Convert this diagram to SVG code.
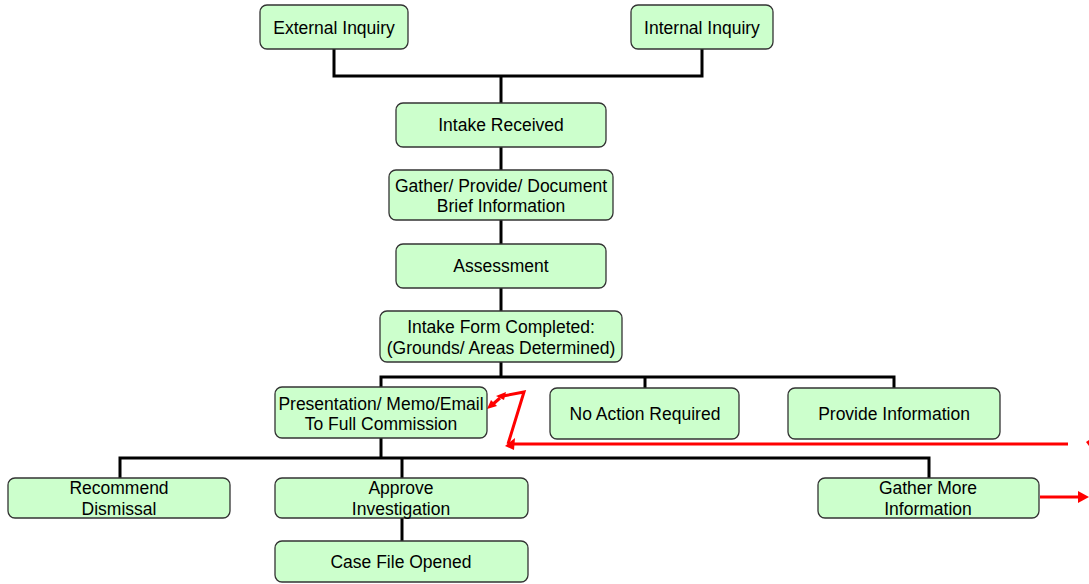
<svg xmlns="http://www.w3.org/2000/svg" width="1089" height="584" viewBox="0 0 1089 584">
<style>
.box{fill:#ccffcc;stroke:#333;stroke-width:1.3}
.t{font-family:"Liberation Sans",Arial,sans-serif;font-size:17.5px;fill:#000;text-anchor:middle}
.c{fill:none;stroke:#000;stroke-width:3}
.r{fill:none;stroke:#ff0000;stroke-width:3}
.rh{fill:#ff0000;stroke:none}
</style>
<rect width="1089" height="584" fill="#fff"/>
<g id="connectors">
<polyline class="c" points="334,49 334,76 702,76 702,49"/>
<line class="c" x1="501" y1="76" x2="501" y2="103"/>
<line class="c" x1="501" y1="147" x2="501" y2="170"/>
<line class="c" x1="501" y1="220" x2="501" y2="244"/>
<line class="c" x1="501" y1="288" x2="501" y2="311"/>
<line class="c" x1="501" y1="362" x2="501" y2="377"/>
<polyline class="c" points="381,387 381,377 894,377 894,388"/>
<line class="c" x1="645" y1="377" x2="645" y2="388"/>
<line class="c" x1="381" y1="438" x2="381" y2="458"/>
<polyline class="c" points="120,478 120,458 929,458 929,478"/>
<line class="c" x1="402" y1="458" x2="402" y2="478"/>
<line class="c" x1="402" y1="518" x2="402" y2="541"/>
<g id="red">
<polyline class="r" points="1068,444 512,444"/>
<polygon class="rh" points="505,446 515,438 514,450"/>
<polyline class="r" points="508,444 524,392 503,396"/>
<polygon class="rh" points="506,392 496,396 504,400"/>
<line class="r" x1="500" y1="398" x2="492" y2="405"/>
<polygon class="rh" points="487,409 491,400 497,406"/>
<line class="r" x1="1040" y1="497" x2="1080" y2="497"/>
<polygon class="rh" points="1089,497 1078,491 1078,503"/>
<polygon class="rh" points="1086,442 1089,440 1089,446"/>
</g>
</g>
<g id="external"><rect class="box" x="260" y="5" width="148" height="44" rx="7"/><text class="t" x="334" y="34">External Inquiry</text></g>
<g id="internal"><rect class="box" x="631" y="5" width="142" height="44" rx="7"/><text class="t" x="702" y="34">Internal Inquiry</text></g>
<g id="intake"><rect class="box" x="396" y="103" width="210" height="44" rx="7"/><text class="t" x="501" y="131">Intake Received</text></g>
<g id="gather"><rect class="box" x="389" y="170" width="224" height="50" rx="7"/><text class="t" x="501" y="192">Gather/ Provide/ Document</text><text class="t" x="501" y="212">Brief Information</text></g>
<g id="assessment"><rect class="box" x="396" y="244" width="210" height="44" rx="7"/><text class="t" x="501" y="272">Assessment</text></g>
<g id="form"><rect class="box" x="380" y="311" width="242" height="51" rx="7"/><text class="t" x="501" y="333">Intake Form Completed:</text><text class="t" x="501" y="354">(Grounds/ Areas Determined)</text></g>
<g id="presentation"><rect class="box" x="275" y="387" width="212" height="51" rx="7"/><text class="t" x="381" y="410">Presentation/ Memo/Email</text><text class="t" x="381" y="430">To Full Commission</text></g>
<g id="noaction"><rect class="box" x="550" y="388" width="189" height="51" rx="7"/><text class="t" x="645" y="420">No Action Required</text></g>
<g id="provide"><rect class="box" x="788" y="388" width="212" height="51" rx="7"/><text class="t" x="894" y="420">Provide Information</text></g>
<g id="dismissal"><rect class="box" x="8" y="478" width="222" height="40" rx="7"/><text class="t" x="119" y="494">Recommend</text><text class="t" x="119" y="515">Dismissal</text></g>
<g id="approve"><rect class="box" x="275" y="478" width="253" height="40" rx="7"/><text class="t" x="401" y="494">Approve</text><text class="t" x="401" y="515">Investigation</text></g>
<g id="gathermore"><rect class="box" x="818" y="478" width="221" height="40" rx="7"/><text class="t" x="928" y="494">Gather More</text><text class="t" x="928" y="515">Information</text></g>
<g id="casefile"><rect class="box" x="275" y="541" width="253" height="41" rx="7"/><text class="t" x="401" y="568">Case File Opened</text></g>
</svg>
